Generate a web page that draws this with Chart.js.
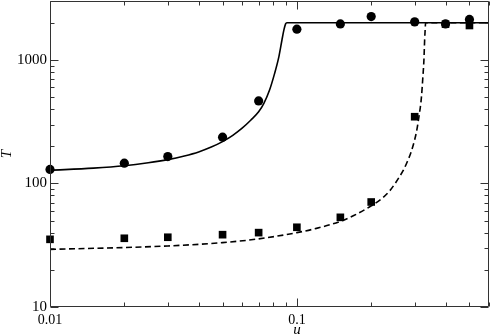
<!DOCTYPE html>
<html><head><meta charset="utf-8">
<script src="https://cdn.jsdelivr.net/npm/chart.js@4/dist/chart.umd.min.js"></script>
<style>html,body{margin:0;padding:0;background:#fff}#wrap{width:491px;height:336px;position:relative}</style>
</head><body><div id="wrap"><canvas id="c" width="491" height="336"></canvas></div>
<script>
// ---- data ----
const uCircles = [0.01, 0.02, 0.03, 0.05, 0.07, 0.1, 0.15, 0.2, 0.3, 0.4, 0.5];
const tCircles = [130, 146, 165, 237, 466, 1774, 1955, 2244, 2033, 1955, 2129];
const uSquares = [0.01, 0.02, 0.03, 0.05, 0.07, 0.1, 0.15, 0.2, 0.3, 0.4, 0.5];
const tSquares = [35.3, 36.0, 36.7, 38.5, 40.0, 44.2, 53.2, 70.8, 347, 1950, 1900];
const uSolid = [0.01, 0.015, 0.02, 0.025, 0.03, 0.035, 0.04, 0.045, 0.05, 0.055, 0.06, 0.065, 0.07, 0.0735, 0.0775, 0.0812, 0.0846, 0.087, 0.0886, 0.09, 0.0911, 0.6];
const tSolid = [128, 133, 139, 147, 156, 167, 180, 197, 218, 245, 280, 325, 380, 445, 571, 775, 1070, 1450, 1750, 1960, 2000, 2000];
const uDashed = [0.01, 0.02, 0.03, 0.05, 0.07, 0.1, 0.12, 0.15, 0.17, 0.2, 0.22, 0.2375, 0.25, 0.26, 0.27, 0.28, 0.29, 0.3, 0.306, 0.312, 0.3165, 0.3195, 0.324, 0.327, 0.3292, 0.331, 0.332, 0.6];
const tDashed = [29.3, 30.3, 31.2, 33.2, 35.6, 40, 43.3, 49.3, 55, 65.8, 75, 87, 100, 113, 128, 150, 179, 226, 270, 345, 420, 500, 740, 1000, 1450, 1800, 2000, 2000];
const xMajorTicks = [0.01, 0.1];
const xMinorTicks = [0.02, 0.03, 0.04, 0.05, 0.06, 0.07, 0.08, 0.09, 0.2, 0.3, 0.4, 0.5, 0.6];
const yMajorTicks = [10, 100, 1000];
const yMinorTicks = [20, 30, 40, 50, 60, 70, 80, 90, 200, 300, 400, 500, 600, 700, 800, 900, 2000, 3000];
const xTitle = 'u';
const yTitle = 'T';

const FONT = '"Liberation Serif", "DejaVu Serif", serif';
const pts = (xs, ys) => xs.map((v, i) => ({x: v, y: ys[i]}));

const frameTicks = {
  id: 'frameTicks',
  afterDatasetsDraw(chart) {
    const {ctx, chartArea: a, scales: {x, y}} = chart;
    ctx.save();
    ctx.strokeStyle = '#333';
    ctx.lineWidth = 1;
    ctx.beginPath();
    const L = Math.round(a.left) + 0.5, R = Math.round(a.right) - 0.5;
    const T = Math.round(a.top) + 0.5, B = Math.round(a.bottom) - 0.5;
    ctx.rect(L, T, R - L, B - T);
    const xt = [...xMajorTicks.map(v => [v, 8]), ...xMinorTicks.map(v => [v, 4])];
    xt.forEach(([v, len]) => {
      const px = Math.round(x.getPixelForValue(v)) + 0.5;
      ctx.moveTo(px, B); ctx.lineTo(px, B - len);
      ctx.moveTo(px, T); ctx.lineTo(px, T + len);
    });
    const yt = [...yMajorTicks.map(v => [v, 8]), ...yMinorTicks.map(v => [v, 4])];
    yt.forEach(([v, len]) => {
      const py = Math.round(y.getPixelForValue(v)) + 0.5;
      ctx.moveTo(L, py); ctx.lineTo(L + len, py);
      ctx.moveTo(R, py); ctx.lineTo(R - len, py);
    });
    ctx.stroke();
    // x-axis title
    ctx.fillStyle = '#000';
    ctx.font = 'italic 15px ' + FONT;
    ctx.textAlign = 'center';
    ctx.textBaseline = 'middle';
    ctx.fillText(xTitle, x.getPixelForValue(0.1), 330);
    ctx.restore();
  }
};

new Chart(document.getElementById('c'), {
  type: 'scatter',
  data: {
    datasets: [
      {data: pts(uSolid, tSolid), showLine: true, borderColor: '#000', borderWidth: 1.6,
       pointRadius: 0, cubicInterpolationMode: 'monotone', fill: false},
      {data: pts(uDashed, tDashed), showLine: true, borderColor: '#000', borderWidth: 1.6,
       borderDash: [6, 3.5], pointRadius: 0, cubicInterpolationMode: 'monotone', fill: false},
      {data: pts(uCircles, tCircles), pointStyle: 'circle', pointRadius: 4.6,
       backgroundColor: '#000', borderColor: '#000', borderWidth: 0, clip: false},
      {data: pts(uSquares, tSquares), pointStyle: 'rect', pointRadius: 5.4,
       backgroundColor: '#000', borderColor: '#000', borderWidth: 0, clip: false}
    ]
  },
  options: {
    responsive: false,
    animation: false,
    devicePixelRatio: 1,
    layout: {autoPadding: false, padding: {top: 1, right: 2, left: 0, bottom: 0}},
    plugins: {legend: {display: false}, tooltip: {enabled: false}},
    scales: {
      x: {
        type: 'logarithmic', min: 0.01, max: 0.6,
        afterBuildTicks: s => { s.ticks = xMajorTicks.map(v => ({value: v})); },
        afterFit: s => { s.height = 29; s.paddingLeft = 0; s.paddingRight = 0; },
        grid: {display: false, drawTicks: false},
        border: {display: false},
        ticks: {autoSkip: false, maxRotation: 0, padding: 5, color: '#000',
                font: {family: FONT, size: 14},
                callback: v => String(v)}
      },
      y: {
        type: 'logarithmic', min: 10, max: 3000,
        afterBuildTicks: s => { s.ticks = yMajorTicks.map(v => ({value: v})); },
        afterFit: s => { s.width = 50; s.paddingTop = 0; s.paddingBottom = 0; },
        grid: {display: false, drawTicks: false},
        border: {display: false},
        ticks: {autoSkip: false, padding: 3, color: '#000',
                font: {family: FONT, size: 15},
                callback: v => String(v)},
        title: {display: true, text: yTitle, color: '#000', padding: {top: 0, bottom: 0},
                font: {family: FONT, size: 15, style: 'italic', lineHeight: 1}}
      }
    }
  },
  plugins: [frameTicks]
});
</script></body></html>
